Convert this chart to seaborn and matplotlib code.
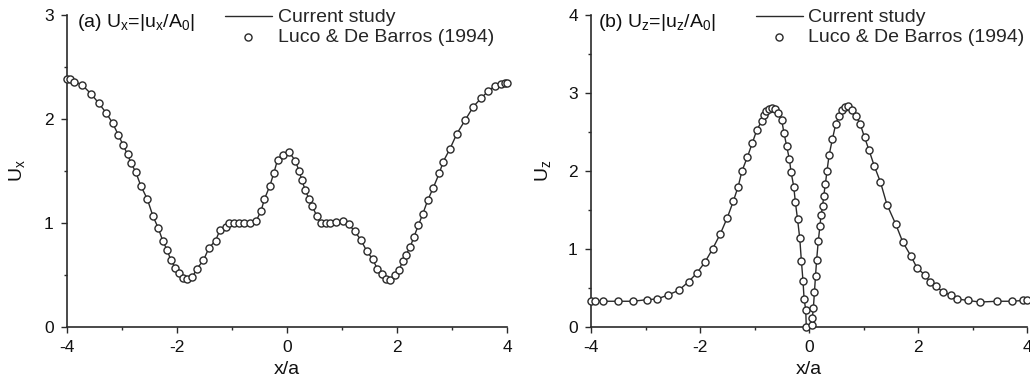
import numpy as np
import pandas as pd
import matplotlib
matplotlib.use("Agg")
import matplotlib.pyplot as plt
import seaborn as sns
from matplotlib.ticker import MultipleLocator

# ---- data ----
ux_x = [-4.00, -3.95, -3.87, -3.73, -3.56, -3.42, -3.29, -3.17, -3.07, -2.98, -2.90, -2.84,
        -2.75, -2.66, -2.54, -2.44, -2.34, -2.26, -2.18, -2.11, -2.03, -1.96, -1.89, -1.81,
        -1.72, -1.64, -1.52, -1.42, -1.30, -1.22, -1.11, -1.05, -0.96, -0.87, -0.78, -0.67,
        -0.56, -0.47, -0.41, -0.31, -0.24, -0.17, -0.07, 0.04, 0.15, 0.22, 0.27, 0.33, 0.40,
        0.46, 0.54, 0.61, 0.70, 0.78, 0.89, 1.01, 1.12, 1.23, 1.34, 1.45, 1.56, 1.64, 1.72,
        1.80, 1.88, 1.97, 2.04, 2.10, 2.16, 2.24, 2.31, 2.39, 2.47, 2.56, 2.66, 2.77, 2.84,
        2.96, 3.09, 3.24, 3.39, 3.53, 3.66, 3.79, 3.89, 3.96, 4.00]
ux_y = [2.38, 2.38, 2.36, 2.33, 2.24, 2.15, 2.06, 1.96, 1.85, 1.75, 1.66, 1.58,
        1.49, 1.36, 1.23, 1.07, 0.95, 0.83, 0.74, 0.64, 0.57, 0.52, 0.47, 0.46,
        0.48, 0.56, 0.64, 0.76, 0.83, 0.93, 0.96, 1.00, 1.00, 1.00, 1.00, 1.00,
        1.02, 1.12, 1.23, 1.36, 1.48, 1.61, 1.65, 1.68, 1.60, 1.50, 1.41, 1.32, 1.23,
        1.16, 1.07, 1.00, 1.00, 1.00, 1.01, 1.02, 0.99, 0.92, 0.84, 0.73, 0.65, 0.56, 0.51,
        0.46, 0.45, 0.50, 0.55, 0.63, 0.69, 0.77, 0.87, 0.98, 1.09, 1.22, 1.34, 1.48, 1.59,
        1.71, 1.86, 1.99, 2.12, 2.20, 2.27, 2.32, 2.34, 2.35, 2.35]

uz_x = [-4.00, -3.93, -3.78, -3.50, -3.23, -2.98, -2.78, -2.59, -2.39, -2.21, -2.06, -1.91,
        -1.77, -1.63, -1.50, -1.39, -1.30, -1.23, -1.13, -1.04, -0.96, -0.87, -0.82, -0.78,
        -0.74, -0.68, -0.63, -0.57, -0.50, -0.46, -0.41, -0.36, -0.33, -0.28, -0.25, -0.21,
        -0.17, -0.14, -0.11, -0.09, -0.06, -0.05,
        0.05, 0.06, 0.08, 0.10, 0.12, 0.14, 0.17, 0.20, 0.22, 0.25, 0.27, 0.30, 0.33, 0.37,
        0.43, 0.49, 0.55, 0.60, 0.66, 0.72, 0.79, 0.86, 0.94, 1.02, 1.10, 1.20, 1.31, 1.43,
        1.59, 1.72, 1.87, 1.98, 2.12, 2.22, 2.33, 2.46, 2.60, 2.72, 2.91, 3.14, 3.45, 3.73,
        3.92, 4.00]
uz_y = [0.33, 0.33, 0.33, 0.33, 0.33, 0.35, 0.36, 0.41, 0.47, 0.58, 0.69, 0.83,
        1.00, 1.19, 1.40, 1.61, 1.80, 2.00, 2.18, 2.36, 2.52, 2.64, 2.72, 2.77,
        2.79, 2.81, 2.79, 2.74, 2.65, 2.49, 2.32, 2.15, 1.99, 1.80, 1.60, 1.38,
        1.14, 0.85, 0.59, 0.36, 0.22, 0.00,
        0.02, 0.11, 0.24, 0.45, 0.66, 0.86, 1.10, 1.29, 1.43, 1.55, 1.68, 1.83, 2.00, 2.21,
        2.41, 2.60, 2.71, 2.78, 2.82, 2.83, 2.78, 2.71, 2.60, 2.43, 2.27, 2.06, 1.86, 1.57,
        1.32, 1.09, 0.91, 0.76, 0.67, 0.58, 0.52, 0.45, 0.41, 0.36, 0.34, 0.32, 0.33, 0.33,
        0.34, 0.34]

x_ticks = [-4, -2, 0, 2, 4]
series_line = "Current study"
series_ref = "Luco & De Barros (1994)"

# ---- style ----
sns.set_style("ticks")
plt.rcParams["font.family"] = ["Liberation Sans", "DejaVu Sans"]
plt.rcParams["mathtext.default"] = "regular"
plt.rcParams["axes.unicode_minus"] = False

INK = "#2a2a2a"
TXT = "#111111"
fig = plt.figure(figsize=(10.30, 3.82), dpi=100)
ax1 = fig.add_axes([67 / 1030, 55 / 382, 440 / 1030, 312 / 382])
ax2 = fig.add_axes([591 / 1030, 55 / 382, 436 / 1030, 312 / 382])


def panel(ax, xs, ys, ymax, ylabel, title, title_x, ylab_x, leg_x):
    df = pd.DataFrame({"x": xs, "y": ys})
    sns.lineplot(data=df, x="x", y="y", ax=ax, color=INK, linewidth=1.0,
                 sort=False, estimator=None, label=series_line, clip_on=False,
                 legend=False)
    sns.scatterplot(data=df, x="x", y="y", ax=ax, marker="o", s=26,
                    facecolor="white", edgecolor=INK, linewidth=1.0,
                    label=series_ref, zorder=3, clip_on=False, legend=False)
    ax.set_xlim(-4, 4)
    ax.set_ylim(0, ymax)
    ax.set_xticks(x_ticks)
    ax.xaxis.set_minor_locator(MultipleLocator(1))
    ax.yaxis.set_major_locator(MultipleLocator(1))
    ax.yaxis.set_minor_locator(MultipleLocator(0.5))
    ax.tick_params(which="major", direction="out", length=4.5, width=1.0,
                   color=INK, labelsize=12.5, labelcolor=TXT, pad=5)
    ax.tick_params(which="minor", direction="out", length=2.5, width=1.0, color=INK)
    for s in ["top", "right"]:
        ax.spines[s].set_visible(False)
    for s in ["left", "bottom"]:
        ax.spines[s].set_color(INK)
        ax.spines[s].set_linewidth(1.2)
    ax.set_xlabel("x/a", fontsize=14, color=TXT)
    ax.set_ylabel(ylabel, fontsize=14, color=TXT)
    ax.xaxis.set_label_coords(0.5, -0.108)
    ax.yaxis.set_label_coords(ylab_x, 0.5)
    ax.text(title_x, 0.975, title, transform=ax.transAxes, fontsize=14,
            ha="left", va="center", color=TXT)
    ax.legend(loc="upper left", bbox_to_anchor=(leg_x, 1.02),
              frameon=False, fontsize=14, handlelength=2.4, handletextpad=0.3,
              borderpad=0, borderaxespad=0, labelspacing=0.1, scatterpoints=1)
    return ax


panel(ax1, ux_x, ux_y, 3, r"U$_x$", r"(a) U$_x$=|u$_x$/A$_0$|",
      0.023, -0.09, (225 - 67) / 440)
panel(ax2, uz_x, uz_y, 4, r"U$_z$", r"(b) U$_z$=|u$_z$/A$_0$|",
      0.016, -0.088, (756 - 591) / 436)

fig.savefig("out.png", dpi=100)
